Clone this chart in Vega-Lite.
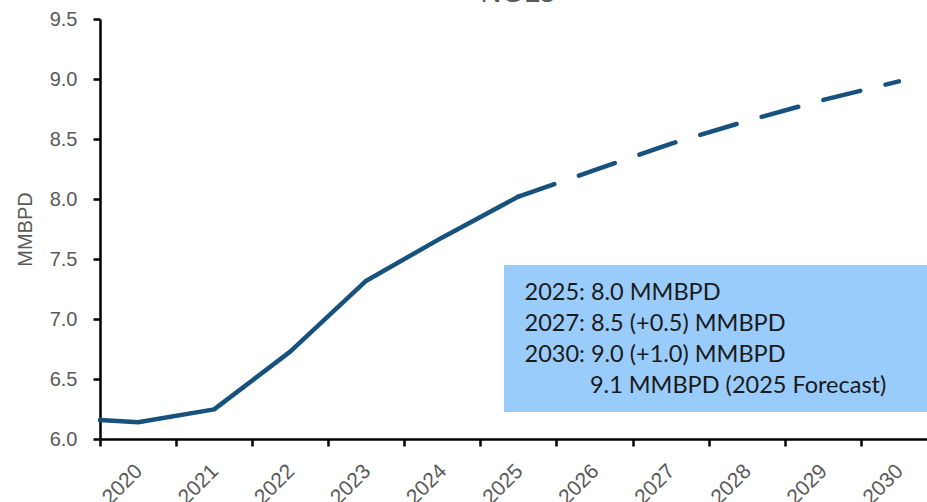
{
  "$schema": "https://vega.github.io/schema/vega-lite/v6.json",
  "autosize": "none",
  "width": 827,
  "height": 420,
  "padding": {"left": 100, "top": 19, "right": 0, "bottom": 63},
  "background": "white",
  "title": {"text": "NGLs", "fontSize": 29, "font": "Liberation Sans", "fontWeight": "normal", "color": "#595959", "offset": 8, "dx": 4, "dy": 7},
  "config": {"view": {"stroke": null}, "font": "Liberation Sans"},
  "datasets": {
    "series": [
      {"year": 2019.5, "value": 6.158, "segment": "actual"},
      {"year": 2020, "value": 6.139, "segment": "actual"},
      {"year": 2021, "value": 6.247, "segment": "actual"},
      {"year": 2022, "value": 6.728, "segment": "actual"},
      {"year": 2023, "value": 7.319, "segment": "actual"},
      {"year": 2024, "value": 7.68, "segment": "actual"},
      {"year": 2025, "value": 8.02, "segment": "actual"},
      {"year": 2025, "value": 8.02, "segment": "forecast"},
      {"year": 2026, "value": 8.24, "segment": "forecast"},
      {"year": 2027, "value": 8.46, "segment": "forecast"},
      {"year": 2028, "value": 8.65, "segment": "forecast"},
      {"year": 2029, "value": 8.825, "segment": "forecast"},
      {"year": 2030, "value": 8.98, "segment": "forecast"}
    ],
    "box": [{"x1": 2024.81, "x2": 2030.6, "y1": 7.45, "y2": 6.225}],
    "notes": [
      {"x": 2025.08, "y": 7.217, "label": "2025: 8.0 MMBPD", "style": "normal"},
      {"x": 2025.08, "y": 6.958, "label": "2027: 8.5 (+0.5) MMBPD", "style": "normal"},
      {"x": 2025.08, "y": 6.7, "label": "2030: 9.0 (+1.0) MMBPD", "style": "normal"},
      {"x": 2025.94, "y": 6.442, "label": "9.1 MMBPD (2025 Forecast)", "style": "italic"}
    ]
  },
  "layer": [
    {
      "data": {"name": "box"},
      "mark": {"type": "rect", "color": "#99CCFA", "clip": true},
      "encoding": {
        "x": {"field": "x1", "type": "quantitative", "scale": {"domain": [2019.5, 2030.37]}},
        "x2": {"field": "x2"},
        "y": {"field": "y1", "type": "quantitative"},
        "y2": {"field": "y2"}
      }
    },
    {
      "data": {"name": "notes"},
      "mark": {"type": "text", "align": "left", "baseline": "middle", "font": "Lato", "fontSize": 23.5, "color": "#1a1a1a"},
      "encoding": {
        "x": {"field": "x", "type": "quantitative"},
        "y": {"field": "y", "type": "quantitative"},
        "text": {"field": "label"},
        "fontStyle": {"field": "style", "type": "nominal", "scale": {"domain": ["normal", "italic"], "range": ["normal", "italic"]}, "legend": null}
      }
    },
    {
      "data": {"name": "series"},
      "transform": [{"filter": "datum.segment === 'actual'"}],
      "mark": {"type": "line", "color": "#17527F", "strokeWidth": 4.5, "strokeCap": "round", "strokeJoin": "round"},
      "encoding": {
        "x": {
          "field": "year", "type": "quantitative",
          "scale": {"domain": [2019.5, 2030.37], "nice": false, "zero": false},
          "axis": {
            "title": null,
            "values": [2020, 2021, 2022, 2023, 2024, 2025, 2026, 2027, 2028, 2029, 2030],
            "format": "d",
            "tickOffset": -38.04,
            "labelOffset": 31,
            "labelAngle": -45,
            "labelAlign": "right",
            "labelBaseline": "top",
            "labelFontSize": 21,
            "labelColor": "#595959",
            "labelPadding": 14,
            "labelOverlap": false,
            "labelFlush": false,
            "tickColor": "black",
            "tickWidth": 2.5,
            "tickSize": 7,
            "domainColor": "black",
            "domainWidth": 2.5,
            "grid": false
          }
        },
        "y": {
          "field": "value", "type": "quantitative",
          "scale": {"domain": [6, 9.5], "nice": false, "zero": false},
          "axis": {
            "title": "MMBPD",
            "titleFontSize": 20,
            "titleFontWeight": "normal",
            "titleColor": "#595959",
            "titlePadding": 14,
            "values": [6, 6.5, 7, 7.5, 8, 8.5, 9, 9.5],
            "format": ".1f",
            "labelFontSize": 20,
            "labelColor": "#595959",
            "labelPadding": 16,
            "tickColor": "black",
            "tickWidth": 2.5,
            "tickSize": 7,
            "domainColor": "black",
            "domainWidth": 2.5,
            "grid": false
          }
        }
      }
    },
    {
      "data": {"name": "series"},
      "transform": [{"filter": "datum.segment === 'forecast'"}],
      "mark": {"type": "line", "color": "#17527F", "strokeWidth": 4.5, "strokeCap": "round", "strokeJoin": "round", "strokeDash": [38, 26]},
      "encoding": {
        "x": {"field": "year", "type": "quantitative"},
        "y": {"field": "value", "type": "quantitative"}
      }
    }
  ]
}
